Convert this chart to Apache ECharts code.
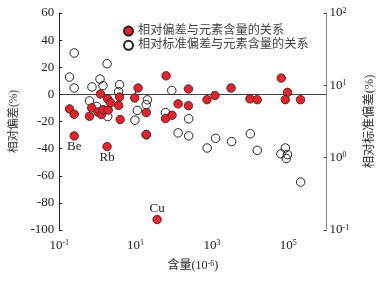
<!DOCTYPE html>
<html>
<head>
<meta charset="utf-8">
<script src="https://cdn.jsdelivr.net/npm/echarts@6/dist/echarts.min.js"></script>
<style>html,body{margin:0;padding:0;background:#fff;}#c{width:384px;height:281px;}</style>
</head>
<body>
<div id="c"></div>
<script>
// Relative deviation (%) vs content (10^-6), left axis
var relDevX = [0.186, 0.247, 0.247, 0.62, 0.71, 1.04, 1.20, 1.28, 1.40, 1.86, 1.92, 2.21, 3.59, 3.80, 3.95,
  9.5, 11.6, 19, 19, 63, 60.8, 90, 130, 242, 242, 741, 1200, 3170, 9890, 15300, 65400, 95000, 83300, 209000,
  1.79, 36.6];
var relDevY = [-10.7, -14.6, -30.6, -16.1, -9.9, -13.0, 0.3, -14.9, -11.2, -3.4, -11.6, -6.1, -8.1, -1.9, -18.5,
  -2.6, 4.7, -13.4, -29.5, 13.7, -17.8, -15.4, -7.0, 4.0, -8.3, -3.9, -0.8, 4.7, -3.3, -3.9, 12.0, 1.5, -3.9, -3.9,
  -38.5, -92.3];
// element labels attached to specific points (index into relDev arrays)
var labelIdx = [2, 34, 35];
var labelText = ['Be', 'Rb', 'Cu'];
var labelPos = ['bottom', 'bottom', 'top'];

// Relative standard deviation (%) vs content, right (log) axis
var rsdX = [0.247, 0.186, 0.247, 0.62, 0.72, 0.96, 1.17, 1.40, 1.79, 1.86, 3.59, 3.80, 11.1, 9.6, 20.4, 19.0, 19.0,
  60.8, 88.7, 130, 246, 246, 750, 1250, 3270, 10100, 15300, 83400, 64000, 95000, 88300, 210000];
var rsdY = [28.0, 13.0, 9.2, 6.1, 9.5, 5.1, 12.2, 9.9, 19.9, 3.7, 8.2, 10.2, 4.5, 3.3, 6.3, 5.4, 2.07,
  4.2, 8.5, 2.2, 3.45, 2.0, 1.36, 1.85, 1.67, 2.14, 1.26, 1.36, 1.13, 1.10, 0.975, 0.46];

var xLabelVals = [0.1, 10, 1000, 100000];
var xTickVals = [10, 1000, 100000];
var leftTicks = {min: -100, max: 60, interval: 20};
var rightRange = {min: 0.1, max: 100};

var seriesNames = ['相对偏差与元素含量的关系', '相对标准偏差与元素含量的关系'];

var serif = '"Liberation Serif", "Times New Roman", serif';
var cjk = '"Liberation Serif", "Noto Sans CJK SC", serif';
var txt = '#222';

function powLabel(v) {
  var e = Math.round(Math.log(v) / Math.LN10);
  return '{b|10}{s|' + e + '}';
}
var powRich = {
  b: {fontSize: 13, fontFamily: serif, color: txt},
  s: {fontSize: 8, fontFamily: serif, color: txt, verticalAlign: 'top'}
};

var redData = relDevX.map(function (x, i) {
  var item = {value: [x, relDevY[i]]};
  var k = labelIdx.indexOf(i);
  if (k >= 0) {
    item.label = {show: true, formatter: labelText[k], position: labelPos[k], distance: 0,
      fontSize: 13, fontFamily: serif, color: txt};
  }
  return item;
});
var hollowData = rsdX.map(function (x, i) { return [x, rsdY[i]]; });

var chart = echarts.init(document.getElementById('c'), null, {renderer: 'canvas'});
chart.setOption({
  animation: false,
  backgroundColor: '#fff',
  grid: {left: 50, right: 49, top: 13, bottom: 51},
  legend: {
    orient: 'vertical', left: 118, top: 20, itemGap: 2,
    itemWidth: 9, itemHeight: 9, itemTextGap: 5,
    textStyle: {fontSize: 12.2, color: '#444', fontFamily: cjk},
    data: [
      {name: seriesNames[0], icon: 'circle'},
      {name: seriesNames[1], icon: 'circle'}
    ]
  },
  xAxis: {
    type: 'log', logBase: 10, min: 0.1, max: 1000000,
    name: '含量(10{s|-6})', nameLocation: 'middle', nameGap: 30,
    nameTextStyle: {fontSize: 12, fontFamily: cjk, color: txt,
      rich: {s: {fontSize: 8, fontFamily: serif, color: txt, verticalAlign: 'top'}}},
    axisLine: {lineStyle: {color: '#444', width: 1}},
    axisTick: {inside: true, length: 3, customValues: xTickVals, lineStyle: {color: '#444'}},
    axisLabel: {customValues: xLabelVals, margin: 9, formatter: powLabel, rich: powRich},
    splitLine: {show: false}, minorTick: {show: false}
  },
  yAxis: [
    {
      type: 'value', min: leftTicks.min, max: leftTicks.max, interval: leftTicks.interval,
      name: '相对偏差(%)', nameLocation: 'middle', nameGap: 37, nameRotate: 90,
      nameTextStyle: {fontSize: 11.5, fontFamily: cjk, color: '#333'},
      axisLine: {show: true, lineStyle: {color: '#222', width: 1}},
      axisTick: {show: true, inside: true, length: 3, lineStyle: {color: '#222'}},
      axisLabel: {margin: 5, fontSize: 13, fontFamily: serif, color: txt},
      splitLine: {show: false}
    },
    {
      type: 'log', logBase: 10, min: rightRange.min, max: rightRange.max, position: 'right',
      name: '相对标准偏差(%)', nameLocation: 'middle', nameGap: 37, nameRotate: 90,
      nameTextStyle: {fontSize: 12.5, fontFamily: cjk, color: '#333'},
      axisLine: {show: true, lineStyle: {color: '#888', width: 1}},
      axisTick: {show: true, inside: true, length: 3, lineStyle: {color: '#444'}},
      axisLabel: {margin: 3, formatter: powLabel, rich: powRich},
      splitLine: {show: false}, minorTick: {show: false}
    }
  ],
  series: [
    {
      name: seriesNames[0], type: 'scatter', xAxisIndex: 0, yAxisIndex: 0,
      symbol: 'circle', symbolSize: 8.5, z: 3,
      itemStyle: {color: '#e8202a', borderColor: '#222', borderWidth: 0.8, opacity: 1},
      data: redData
    },
    {
      name: seriesNames[1], type: 'scatter', xAxisIndex: 0, yAxisIndex: 1,
      symbol: 'circle', symbolSize: 8.5, z: 2,
      itemStyle: {color: 'rgba(255,255,255,0)', borderColor: '#222', borderWidth: 1, opacity: 1},
      data: hollowData
    }
  ]
});
</script>
</body>
</html>
